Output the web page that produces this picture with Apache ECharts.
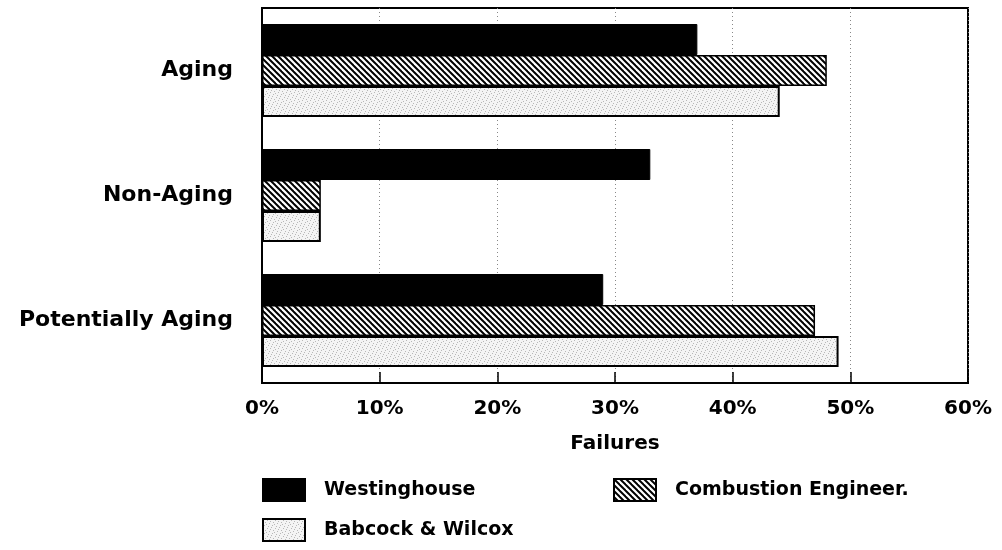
<!DOCTYPE html>
<html>
<head>
<meta charset="utf-8">
<script src="https://cdn.jsdelivr.net/npm/echarts@6/dist/echarts.min.js"></script>
<style>html,body{margin:0;padding:0;background:#fff}#c{width:1002px;height:550px}</style>
</head>
<body>
<div id="c"></div>
<script>
const categories = ['Aging', 'Non-Aging', 'Potentially Aging'];
const westinghouse = [37, 33, 29];
const combustion = [48, 5, 47];
const babcock = [44, 5, 49];
const tickLabels = ['0%', '10%', '20%', '30%', '40%', '50%', '60%'];
const seriesNames = ['Westinghouse', 'Combustion Engineer.', 'Babcock & Wilcox'];

function hatchPattern() {
  const c = document.createElement('canvas');
  c.width = 6; c.height = 6;
  const g = c.getContext('2d');
  g.fillStyle = '#fff'; g.fillRect(0, 0, 6, 6);
  g.strokeStyle = '#000'; g.lineWidth = 2;
  for (let k = -1; k <= 1; k++) {
    g.beginPath();
    g.moveTo(k * 6 - 1, -1);
    g.lineTo(k * 6 + 7, 7);
    g.stroke();
  }
  return { image: c, repeat: 'repeat' };
}
function dotPattern() {
  const c = document.createElement('canvas');
  c.width = 8; c.height = 8;
  const g = c.getContext('2d');
  g.fillStyle = '#f4f4f4'; g.fillRect(0, 0, 8, 8);
  g.fillStyle = '#b8b8b8';
  const pts = [[0,0],[4,1],[2,3],[6,4],[1,6],[5,7],[3,5],[7,2]];
  pts.forEach(p => g.fillRect(p[0], p[1], 1, 1));
  return { image: c, repeat: 'repeat' };
}

const font = 'DejaVu Sans';
const chart = echarts.init(document.getElementById('c'));
const legendText = { fontFamily: font, fontWeight: 'bold', fontSize: 19, color: '#000', padding: [0, 0, 0, 14] };
chart.setOption({
  animation: false,
  grid: { left: 262, right: 34, top: 8, bottom: 167, show: true, borderColor: '#000', borderWidth: 2, backgroundColor: 'transparent' },
  xAxis: {
    type: 'value', min: 0, max: 60, interval: 10,
    name: 'Failures', nameLocation: 'middle', nameGap: 51,
    nameTextStyle: { fontFamily: font, fontWeight: 'bold', fontSize: 20, color: '#000' },
    axisLine: { show: true, lineStyle: { color: '#000', width: 2 } },
    axisTick: { show: true, inside: true, length: 11, lineStyle: { color: '#000', width: 1.5 } },
    axisLabel: { margin: 16, fontFamily: font, fontWeight: 'bold', fontSize: 20, color: '#000',
      formatter: (v) => tickLabels[Math.round(v / 10)] },
    splitLine: { show: true, lineStyle: { color: '#888', type: [1, 3], width: 1 } }
  },
  yAxis: {
    type: 'category', data: categories, inverse: true,
    axisLine: { show: true, lineStyle: { color: '#000', width: 2 } },
    axisTick: { show: false },
    axisLabel: { margin: 29, fontFamily: font, fontWeight: 'bold', fontSize: 22, color: '#000' }
  },
  legend: [
    { data: [seriesNames[0]], left: 262, top: 478, padding: 0, itemWidth: 42, itemHeight: 22, icon: 'rect', textStyle: legendText },
    { data: [seriesNames[1]], left: 613, top: 478, padding: 0, itemWidth: 42, itemHeight: 22, icon: 'rect', textStyle: legendText },
    { data: [seriesNames[2]], left: 262, top: 518, padding: 0, itemWidth: 42, itemHeight: 22, icon: 'rect', textStyle: legendText }
  ],
  series: [
    { name: seriesNames[0], type: 'bar', data: westinghouse, barWidth: 31, barGap: '0%',
      itemStyle: { color: '#000', borderColor: '#000', borderWidth: 1 } },
    { name: seriesNames[1], type: 'bar', data: combustion, barWidth: 31, barGap: '0%',
      itemStyle: { color: hatchPattern(), borderColor: '#000', borderWidth: 1.5 } },
    { name: seriesNames[2], type: 'bar', data: babcock, barWidth: 31, barGap: '0%',
      itemStyle: { color: dotPattern(), borderColor: '#000', borderWidth: 2 } }
  ]
});
</script>
</body>
</html>
